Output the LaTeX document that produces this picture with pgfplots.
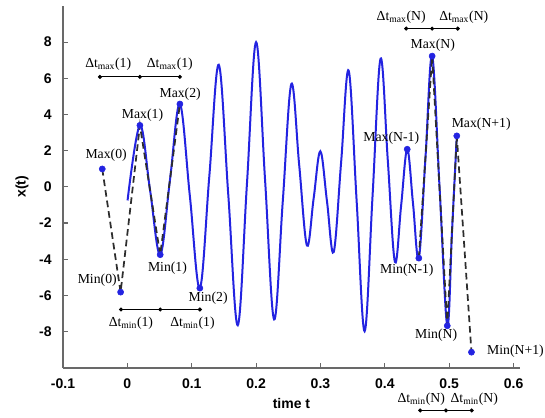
\documentclass[border=0pt]{standalone}
\usepackage{fontspec}
\setmainfont{Liberation Sans}
\newfontfamily\serif{Liberation Serif}
\usepackage{pgfplots}
\pgfplotsset{compat=1.18}
\definecolor{curveblue}{RGB}{35,35,225}
\definecolor{axisgray}{RGB}{105,105,105}
\definecolor{dashgray}{RGB}{45,45,45}

\newcommand{\ann}{\serif\fontsize{10.3}{12}\selectfont}

\begin{document}
\begin{tikzpicture}
\begin{axis}[
    scale only axis,
    width=342.75pt, height=271.3pt,
    xmin=-0.1, xmax=0.61, ymin=-10, ymax=10,
    axis lines=left,
    axis line style={-, axisgray, line width=1.4pt},
    xtick={-0.1,0,0.1,0.2,0.3,0.4,0.5,0.6},
    ytick={-8,-6,-4,-2,0,2,4,6,8},
    tick style={axisgray, line width=0.9pt},
    major tick length=3.5pt,
    tick align=inside,
    /pgf/number format/assume math mode=true,
    /pgf/number format/fixed,
    tick label style={font=\bfseries\fontsize{10.5}{12}\selectfont},
    xticklabel style={yshift=-5pt},
    yticklabel style={xshift=-5pt},
    xlabel={time t}, ylabel={x(t)},
    label style={font=\bfseries\fontsize{10.5}{12}\selectfont},
    xlabel style={at={(axis description cs:0.5,-0.0977)}, anchor=center},
    ylabel style={at={(axis description cs:-0.0897,0.5)}, anchor=center, rotate=0},
    clip=false,
]
% measured trajectory x(t)
\addplot[curveblue, line width=1.5pt, smooth, tension=0.6] coordinates {
    (0.0003,-0.75) (0.0195,3.4) (0.0352,-0.17) (0.051,-3.75) (0.0663,0.42)
    (0.0816,4.58) (0.0971,-0.51) (0.1126,-5.6) (0.1273,0.58) (0.142,6.75)
    (0.1568,-0.45) (0.1715,-7.65) (0.1858,0.18) (0.2,8.0) (0.214,0.34)
    (0.228,-7.33) (0.2414,-0.82) (0.2548,5.69) (0.2669,1.23) (0.279,-3.24)
    (0.2894,-0.64) (0.2998,1.97) (0.3102,-0.82) (0.3205,-3.61) (0.3322,1.41)
    (0.3438,6.43) (0.3562,-0.78) (0.3686,-7.98) (0.381,-0.45) (0.3934,7.09)
    (0.4046,1.47) (0.4157,-4.15) (0.4253,-1.04) (0.4348,2.08) (0.4438,-0.93)
    (0.4528,-3.94) (0.4632,1.65) (0.4735,7.23) (0.4853,-0.23) (0.497,-7.68)
    (0.5044,-2.43) (0.5118,2.82)
};
% dashed extrema sequences
\addplot[dashgray, line width=1.3pt, dash pattern=on 5pt off 3pt] coordinates {
    (-0.039,0.99) (-0.0105,-5.82) (0.0195,3.4) (0.051,-3.75) (0.0816,4.58)
};
\addplot[dashgray, line width=1.3pt, dash pattern=on 5pt off 3pt] coordinates {
    (0.4528,-3.94) (0.4735,7.23) (0.497,-7.68) (0.5118,2.82) (0.5346,-9.14)
};
% extrema points
\addplot[only marks, mark=*, mark size=2.3pt, curveblue] coordinates {
    (-0.039,0.99) (-0.0105,-5.82) (0.0195,3.4) (0.051,-3.75) (0.0816,4.58)
    (0.1126,-5.6) (0.4348,2.08) (0.4528,-3.94) (0.4735,7.23) (0.497,-7.68)
    (0.5118,2.82) (0.5346,-9.14)
};
% interval bars
\addplot[black, line width=0.6pt, mark=*, mark size=1.2pt] coordinates {
    (-0.0426,6.08) (0.0195,6.08) (0.0816,6.08)
};
\addplot[black, line width=0.6pt, mark=*, mark size=1.2pt] coordinates {
    (-0.010,-6.78) (0.051,-6.78) (0.1126,-6.78)
};
\addplot[black, line width=0.6pt, mark=*, mark size=1.2pt] coordinates {
    (0.4332,8.75) (0.4735,8.75) (0.5133,8.75)
};
\addplot[black, line width=0.6pt, mark=*, mark size=1.2pt] coordinates {
    (0.455,-12.36) (0.495,-12.36) (0.535,-12.36)
};

\node[font=\ann] at (axis cs:-0.033,1.73) {Max(0)};
\node[font=\ann] at (axis cs:0.0235,3.96) {Max(1)};
\node[font=\ann] at (axis cs:0.082,5.1) {Max(2)};
\node[font=\ann] at (axis cs:-0.0468,-5.18) {Min(0)};
\node[font=\ann] at (axis cs:0.0623,-4.48) {Min(1)};
\node[font=\ann] at (axis cs:0.1255,-6.15) {Min(2)};
\node[font=\ann] at (axis cs:0.41,2.7) {Max(N-1)};
\node[font=\ann] at (axis cs:0.4745,7.82) {Max(N)};
\node[font=\ann] at (axis cs:0.5497,3.48) {Max(N+1)};
\node[font=\ann] at (axis cs:0.4342,-4.62) {Min(N-1)};
\node[font=\ann] at (axis cs:0.4797,-8.22) {Min(N)};
\node[font=\ann, anchor=west, inner sep=0pt] at (axis cs:0.5585,-9.08) {Min(N+1)};

\node[font=\ann] at (axis cs:-0.0297,6.8) {Δt\textsubscript{max}(1)};
\node[font=\ann] at (axis cs:0.066,6.8) {Δt\textsubscript{max}(1)};
\node[font=\ann] at (axis cs:0.0055,-7.55) {Δt\textsubscript{min}(1)};
\node[font=\ann] at (axis cs:0.1012,-7.55) {Δt\textsubscript{min}(1)};
\node[font=\ann] at (axis cs:0.4254,9.39) {Δt\textsubscript{max}(N)};
\node[font=\ann] at (axis cs:0.5227,9.39) {Δt\textsubscript{max}(N)};
\node[font=\ann] at (axis cs:0.4565,-11.75) {Δt\textsubscript{min}(N)};
\node[font=\ann] at (axis cs:0.539,-11.75) {Δt\textsubscript{min}(N)};
\end{axis}
\pgfresetboundingbox
\path ([shift={(-47.25pt,-37pt)}]current axis.south west)
    rectangle ([shift={(361.5pt,275.8pt)}]current axis.south west);
\end{tikzpicture}
\end{document}
